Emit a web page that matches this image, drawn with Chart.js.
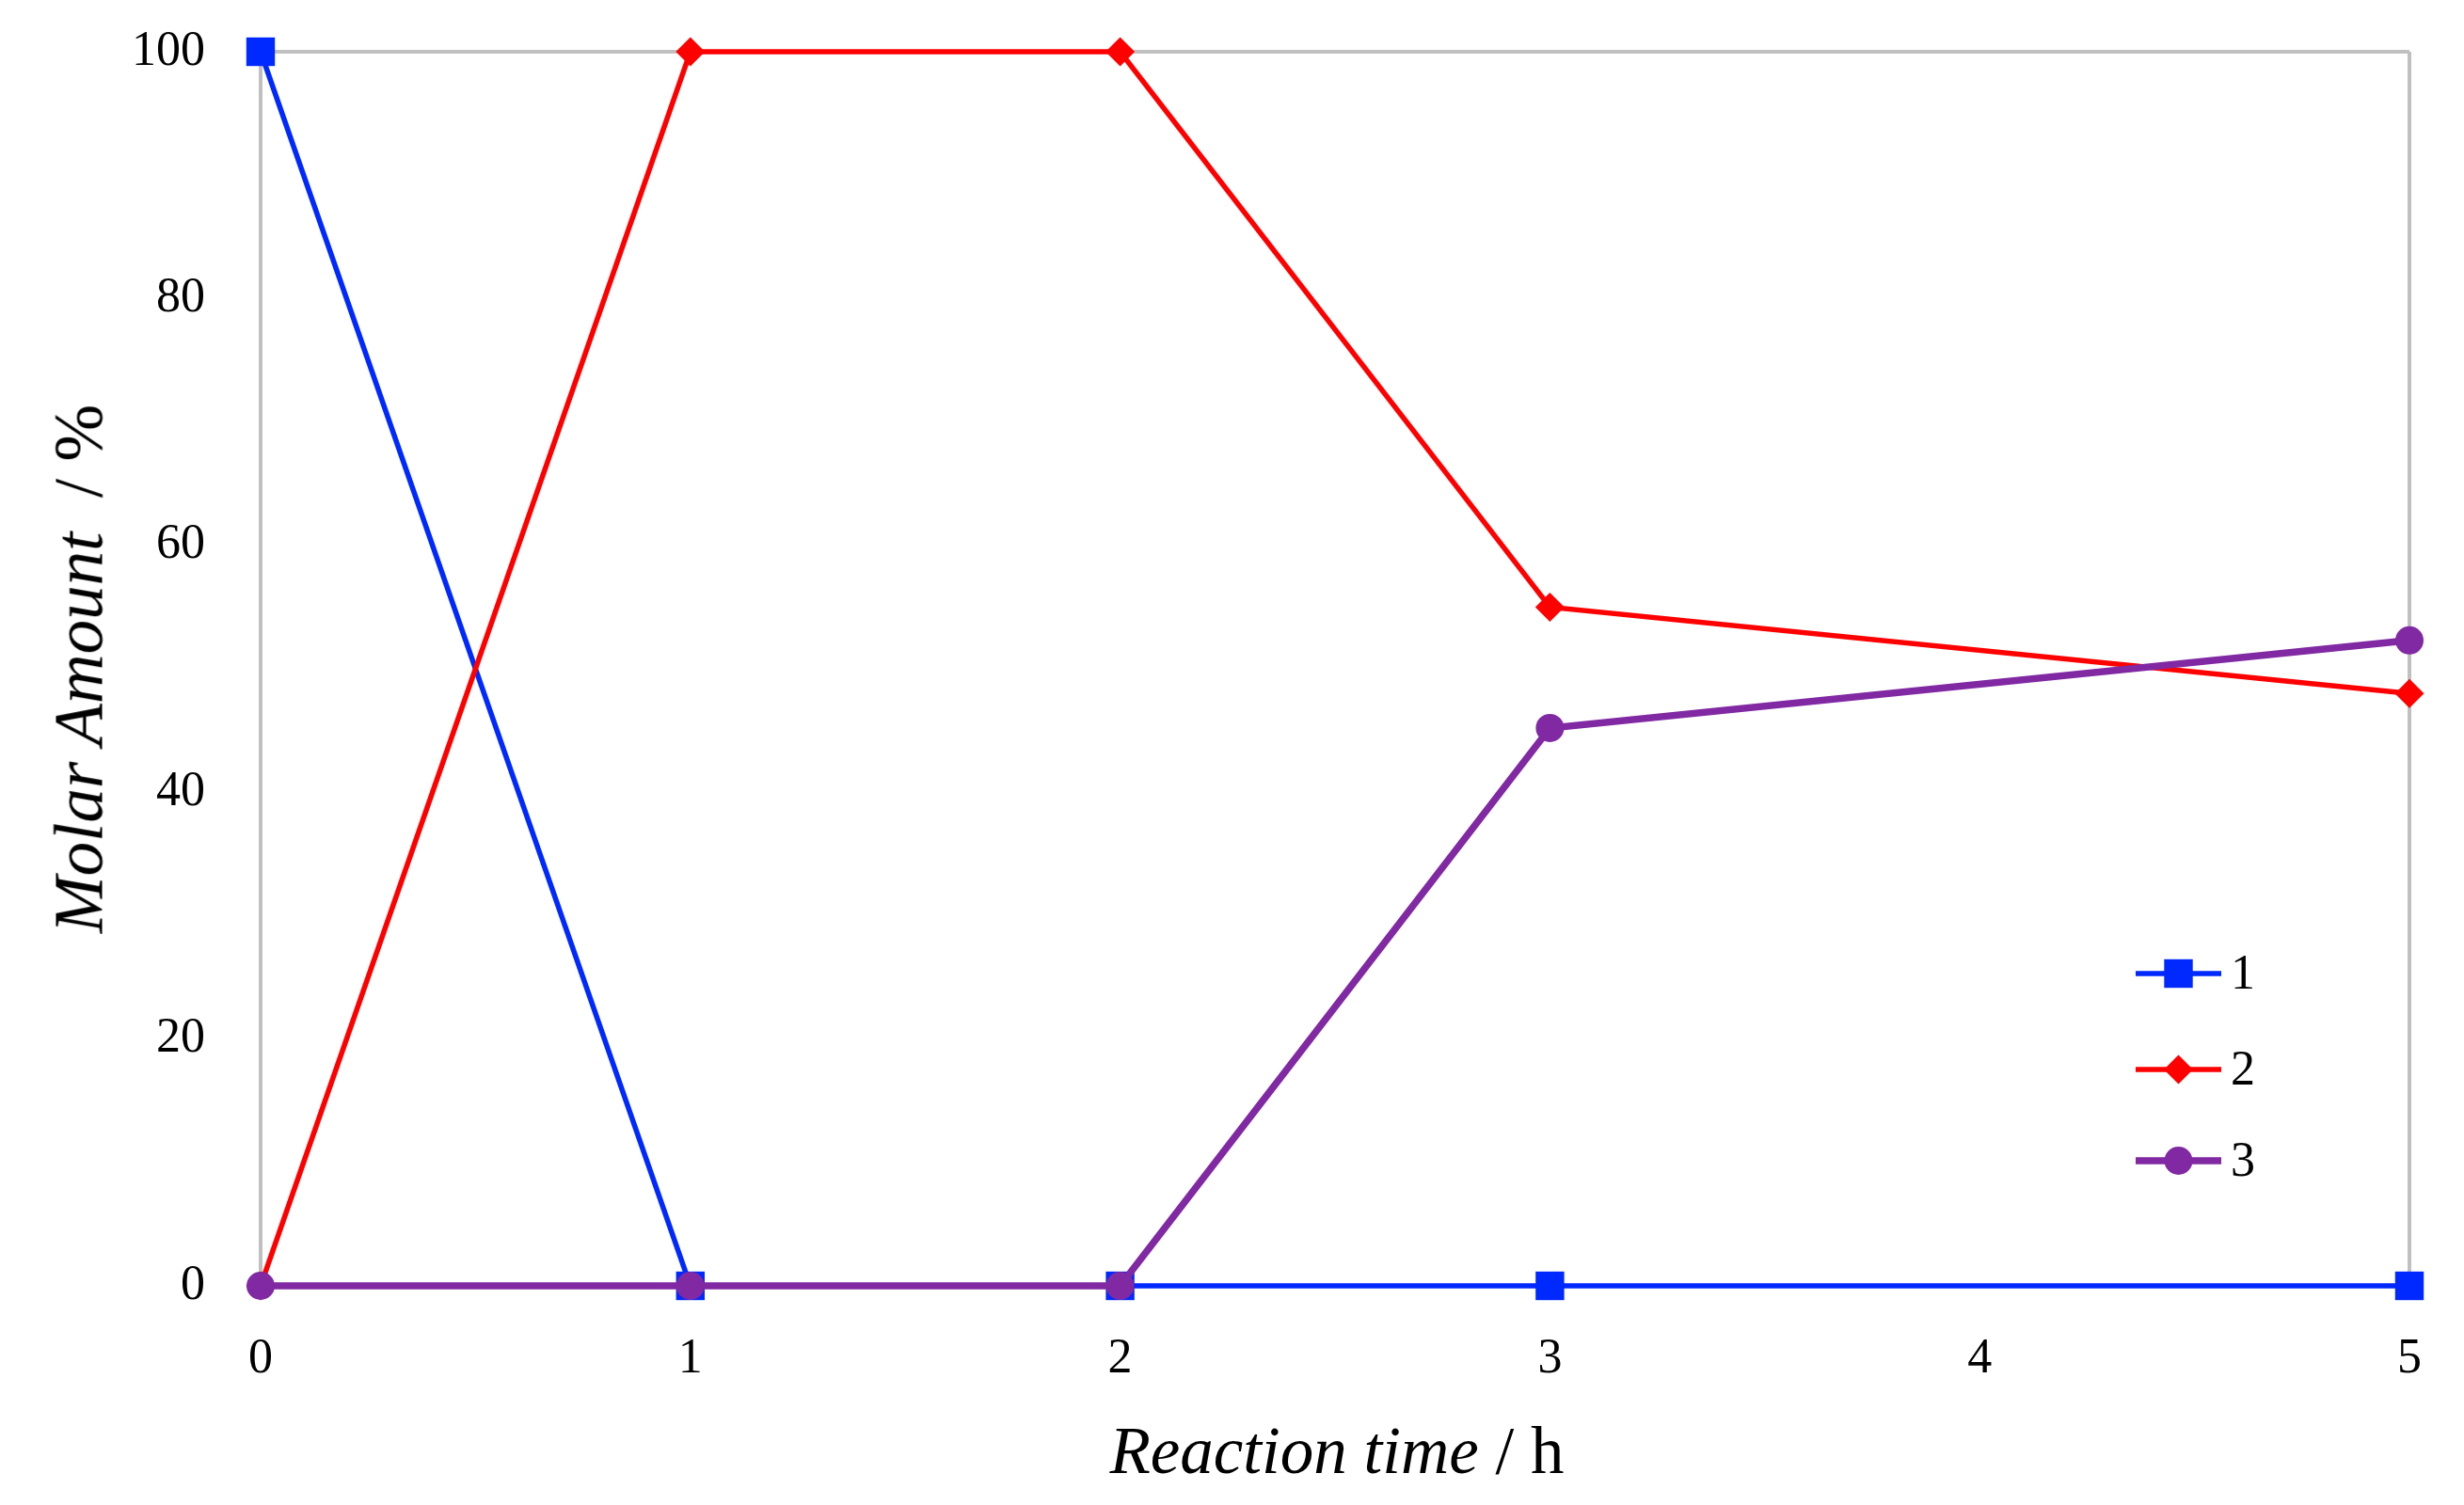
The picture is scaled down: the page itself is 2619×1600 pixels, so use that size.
<!DOCTYPE html>
<html><head><meta charset="utf-8">
<script src="https://cdn.jsdelivr.net/npm/chart.js@4/dist/chart.umd.min.js"></script>
<style>
html,body{margin:0;padding:0;background:#fff;}
#wrap{position:relative;width:2619px;height:1600px;overflow:hidden;}
canvas{position:absolute;left:0;top:0;}
.title{position:absolute;font-family:"Liberation Serif",serif;color:#000;white-space:pre;line-height:1;}
#xt{left:1421px;top:1542px;font-size:71px;transform:translate(-50%,-50%);}
#yt{left:84px;top:711px;font-size:73px;transform:translate(-50%,-50%) rotate(-90deg);}
</style></head><body>
<div id="wrap"><canvas id="c" width="2619" height="1600"></canvas>
<div id="xt" class="title"><i>Reaction time</i> / h</div>
<div id="yt" class="title"><i>Molar Amount</i>  / %</div>
</div>
<script>
// Data
const times = [0, 1, 2, 3, 5];
const seriesLabels = ['1', '2', '3'];
const series1 = [100, 0, 0, 0, 0];
const series2 = [0, 100, 100, 55.0, 48.0];
const series3 = [0, 0, 0, 45.2, 52.3];
const xTicks = [0, 1, 2, 3, 4, 5];
const yTicks = [0, 20, 40, 60, 80, 100];

const colors = ['#0029FF', '#FF0000', '#8029A3'];
const pointStyles = ['rect', 'rectRot', 'circle'];
const pointRadii = [21.5, 15.5, 15];
const lineWidths = [5.5, 5.5, 7.5];
const GRAY = '#C0C0C0';
const FONT = '"Liberation Serif", serif';

function toPoints(vals) { return times.map((t, i) => ({ x: t, y: vals[i] })); }
const allSeries = [series1, series2, series3];

const legendPlugin = {
  id: 'insideLegend',
  afterDraw(chart) {
    const ctx = chart.ctx, a = chart.chartArea;
    const offs = [332, 230, 133];
    ctx.save();
    seriesLabels.forEach((lab, i) => {
      const y = a.bottom - offs[i];
      const x0 = a.right - 291, x1 = a.right - 200, xm = (x0 + x1) / 2;
      ctx.strokeStyle = colors[i];
      ctx.lineWidth = lineWidths[i];
      ctx.beginPath(); ctx.moveTo(x0, y); ctx.lineTo(x1, y); ctx.stroke();
      ctx.fillStyle = colors[i];
      const r = pointRadii[i];
      ctx.beginPath();
      if (pointStyles[i] === 'rect') {
        const s = Math.SQRT1_2 * r; ctx.rect(xm - s, y - s, 2 * s, 2 * s);
      } else if (pointStyles[i] === 'rectRot') {
        ctx.moveTo(xm - r, y); ctx.lineTo(xm, y - r); ctx.lineTo(xm + r, y); ctx.lineTo(xm, y + r); ctx.closePath();
      } else {
        ctx.arc(xm, y, r, 0, Math.PI * 2);
      }
      ctx.fill();
      ctx.fillStyle = '#000';
      ctx.font = '52px ' + FONT;
      ctx.textBaseline = 'middle';
      ctx.textAlign = 'left';
      ctx.fillText(lab, a.right - 190, y + 2);
    });
    ctx.restore();
  }
};

new Chart(document.getElementById('c'), {
  type: 'scatter',
  data: {
    datasets: allSeries.map((vals, i) => ({
      label: seriesLabels[i],
      data: toPoints(vals),
      showLine: true,
      borderColor: colors[i],
      backgroundColor: colors[i],
      borderWidth: lineWidths[i],
      pointStyle: pointStyles[i],
      pointRadius: pointRadii[i],
      pointHoverRadius: pointRadii[i],
      pointBorderWidth: 0,
      tension: 0,
      order: 3 - i,
      clip: false
    }))
  },
  options: {
    responsive: false,
    devicePixelRatio: 1,
    animation: false,
    layout: { padding: { top: 55, right: 58, left: 0, bottom: 0 } },
    plugins: { legend: { display: false }, tooltip: { enabled: false } },
    scales: {
      x: {
        type: 'linear', min: 0, max: 5,
        afterBuildTicks(s) { s.ticks = xTicks.map(v => ({ value: v })); },
        afterFit(s) { s.height = 233; s.paddingLeft = 0; s.paddingRight = 0; },
        ticks: { padding: 47, color: '#000', font: { family: FONT, size: 52 } },
        grid: { drawTicks: false, lineWidth: 4, color: c => (c.tick && c.tick.value === 5) ? GRAY : 'rgba(0,0,0,0)' },
        border: { display: true, color: GRAY, width: 4 }
      },
      y: {
        type: 'linear', min: 0, max: 100,
        afterBuildTicks(s) { s.ticks = yTicks.map(v => ({ value: v })); },
        afterFit(s) { s.width = 277; s.paddingTop = 0; s.paddingBottom = 0; },
        ticks: { padding: 59, color: '#000', font: { family: FONT, size: 52 } },
        grid: { drawTicks: false, lineWidth: 4, color: c => (c.tick && c.tick.value === 100) ? GRAY : 'rgba(0,0,0,0)' },
        border: { display: true, color: GRAY, width: 4 }
      }
    }
  },
  plugins: [legendPlugin]
});
</script>
</body></html>
